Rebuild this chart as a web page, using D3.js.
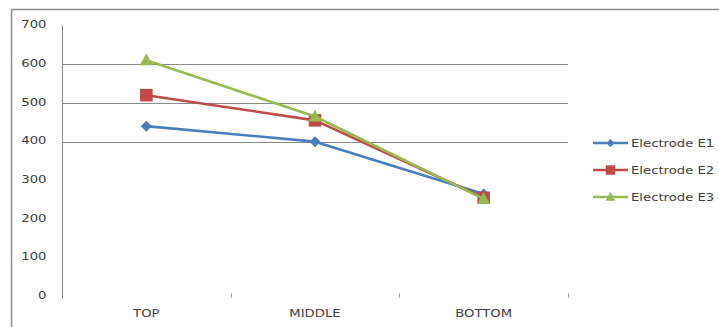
<!DOCTYPE html>
<html>
<head>
<meta charset="utf-8">
<script src="https://cdn.jsdelivr.net/npm/d3@7"></script>
<style>
  html, body { margin: 0; padding: 0; background: #fff; }
  svg { display: block; }
  text { font-family: "DejaVu Sans", Verdana, sans-serif; fill: #404040; }
</style>
</head>
<body>
<svg id="chart" width="719" height="327"></svg>
<script>
// Positions along the electrode column
const categories = ["TOP", "MIDDLE", "BOTTOM"];
const seriesNames = ["Electrode E1", "Electrode E2", "Electrode E3"];
const e1Values = [440, 400, 265];
const e2Values = [520, 455, 255];
const e3Values = [610, 465, 252];
const yTicks = [0, 100, 200, 300, 400, 500, 600, 700];
const gridValues = [400, 500, 600];

const seriesValues = [e1Values, e2Values, e3Values];
const colors = ["#4a7ebb", "#be4b48", "#98b954"];
const markers = ["diamond", "square", "triangle"];

const svg = d3.select("#chart");

// outer frame (only top and left edges fall inside the view)
svg.append("path")
  .attr("d", "M11.5,327 L11.5,9.5 L719,9.5")
  .attr("fill", "none")
  .attr("stroke", "#8c8c8c")
  .attr("stroke-width", 1.5);

const plot = { left: 62, right: 568, top: 25.5, bottom: 296.5 };

const x = d3.scaleBand().domain(categories).range([plot.left, plot.right]).padding(0);
const y = d3.scaleLinear().domain([0, 700]).range([plot.bottom, plot.top]);

// horizontal gridlines
svg.append("g").selectAll("line").data(gridValues).join("line")
  .attr("x1", plot.left).attr("x2", plot.right)
  .attr("y1", d => Math.round(y(d)) + 0.5).attr("y2", d => Math.round(y(d)) + 0.5)
  .attr("stroke", "#8a8a8a").attr("stroke-width", 1);

// value axis
const yAxis = svg.append("g").attr("transform", `translate(${plot.left + 0.5},0)`)
  .call(d3.axisLeft(y).tickValues(yTicks).tickSize(0).tickPadding(16));
yAxis.select(".domain").attr("stroke", "#8a8a8a").attr("d", `M0,${plot.top}V${plot.bottom + 2}`);
yAxis.selectAll("text").attr("font-size", 11).attr("fill", "#404040")
  .attr("font-family", "DejaVu Sans, Verdana, sans-serif")
  .attr("dy", "0.2em");

// category axis: only boundary tick marks and labels are visible
const bounds = categories.slice(1).map(c => x(c)).concat([plot.right]);
svg.append("g").selectAll("line").data(bounds).join("line")
  .attr("x1", d => Math.round(d) + 0.5).attr("x2", d => Math.round(d) + 0.5)
  .attr("y1", plot.bottom - 3).attr("y2", plot.bottom + 1)
  .attr("stroke", "#9a9a9a");

svg.append("g").selectAll("text").data(categories).join("text")
  .attr("x", d => x(d) + x.bandwidth() / 2)
  .attr("y", 317)
  .attr("text-anchor", "middle")
  .attr("font-size", 11)
  .text(d => d);

const cx = c => x(c) + x.bandwidth() / 2;

function drawMarker(g, type, px, py, color, scale) {
  const s = scale || 1;
  if (type === "diamond") {
    const r = 5.5 * s;
    g.append("path").attr("d", `M${px},${py - r}L${px + r},${py}L${px},${py + r}L${px - r},${py}Z`).attr("fill", color);
  } else if (type === "square") {
    const h = 6.3 * s;
    g.append("rect").attr("x", px - h).attr("y", py - h).attr("width", 2 * h).attr("height", 2 * h).attr("fill", color);
  } else {
    const w = 6.5 * s, up = 7 * s, dn = 5 * s;
    g.append("path").attr("d", `M${px},${py - up}L${px + w},${py + dn}L${px - w},${py + dn}Z`).attr("fill", color);
  }
}

const line = d3.line().x((d, i) => cx(categories[i])).y(d => y(d));

seriesValues.forEach((vals, si) => {
  const g = svg.append("g");
  g.append("path").datum(vals).attr("d", line)
    .attr("fill", "none").attr("stroke", colors[si]).attr("stroke-width", 2.6)
    .attr("stroke-linejoin", "round");
  vals.forEach((v, i) => drawMarker(g, markers[si], cx(categories[i]), y(v), colors[si]));
});

// legend
const legend = svg.append("g");
seriesNames.forEach((name, i) => {
  const ly = 143 + i * 27;
  legend.append("line").attr("x1", 593).attr("x2", 628).attr("y1", ly).attr("y2", ly)
    .attr("stroke", colors[i]).attr("stroke-width", 2.6);
  drawMarker(legend, markers[i], 610.5, ly, colors[i], 0.75);
  legend.append("text").attr("x", 631).attr("y", ly + 4).attr("font-size", 11).text(name);
});

// the chart's lettering is set wide; stretch every label horizontally
svg.selectAll("text").each(function () {
  const len = this.getComputedTextLength();
  d3.select(this).attr("textLength", (len * 1.2).toFixed(1)).attr("lengthAdjust", "spacingAndGlyphs");
});
</script>
</body>
</html>
